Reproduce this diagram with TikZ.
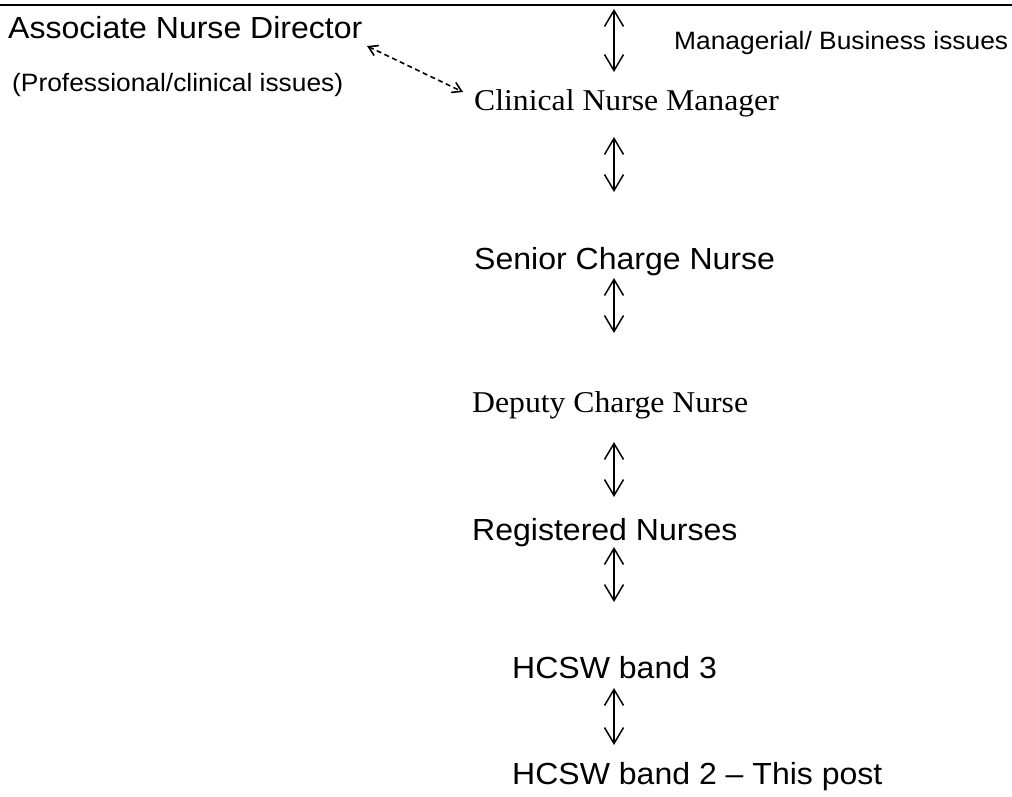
\documentclass[tikz,border=0pt]{standalone}
\usepackage{fontspec}
\setmainfont{Liberation Sans}[FakeStretch=1.05]
\newfontfamily\timesfont{Liberation Serif}[FakeStretch=1.05]
\usetikzlibrary{arrows.meta}

\tikzset{
	rank/.style={anchor=base west, inner sep=0pt, font=\fontsize{30.5}{34}\selectfont},
	rankserif/.style={rank, font=\timesfont\fontsize{30.2}{34}\selectfont},
	remark/.style={anchor=base west, inner sep=0pt, font=\fontsize{25.1}{28}\selectfont},
	updown/.style={{Straight Barb[length=16pt,width=19pt]}-{Straight Barb[length=16pt,width=19pt]}, line width=1.5pt},
	sidelink/.style={{Straight Barb[length=9pt,width=11pt]}-{Straight Barb[length=9pt,width=11pt]}, line width=1.6pt, dash pattern=on 5pt off 3.5pt}
}

\begin{document}
\begin{tikzpicture}[x=1pt,y=-1pt]
	\useasboundingbox (0,0) rectangle (1012,796);
	\coordinate (L) at (0,5);
	\coordinate (R) at (1012,5);
	\draw [line width=2.8pt] (L) -- (R);
	\node [rank] (AND) at (8,38) {Associate Nurse Director};
	\node [remark] (PCI) at (12,91) {(Professional/clinical issues)};
	\node [remark] (MBI) at (674,49) {Managerial/ Business issues};
	\node [rankserif] (CNM) at (474,110) {Clinical Nurse Manager};
	\node [rank] (SCN) at (474,269) {Senior Charge Nurse};
	\node [rankserif] (DCN) at (472,412) {Deputy Charge Nurse};
	\node [rank] (RN) at (472,540) {Registered Nurses};
	\node [rank] (B3) at (512,678) {HCSW band 3};
	\node [rank] (B2) at (512,784) {HCSW band 2 -- This post};
	\coordinate (D1) at (367,46);
	\coordinate (D2) at (463,92);
	\draw [sidelink] (D1) to (D2);
	\foreach \t/\b [count=\i] in {9/72, 137/192, 278/333, 442/497, 547/602, 688/745} {
		\coordinate (up\i) at (614,\t);
		\coordinate (dn\i) at (614,\b);
		\draw [updown] (up\i) to (dn\i);
	}
\end{tikzpicture}
\end{document}
